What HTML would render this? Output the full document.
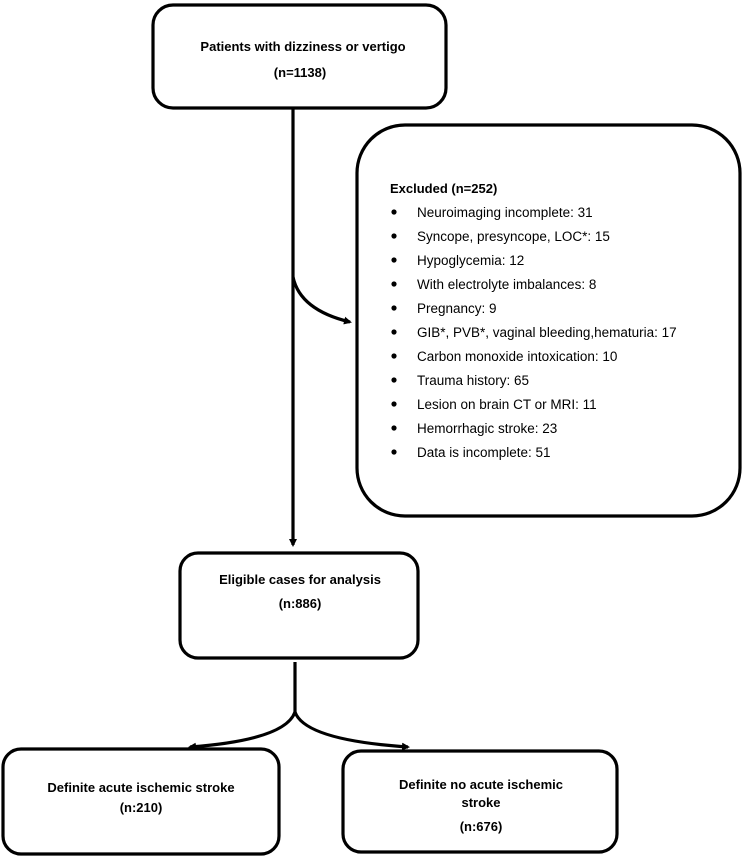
<!DOCTYPE html>
<html><head><meta charset="utf-8"><style>
html,body{margin:0;padding:0;background:#fff;}
svg{display:block;}
text{font-family:"Liberation Sans",sans-serif;fill:#000;}
.b{font-weight:bold;font-size:13px;}
.r{font-size:13.5px;}
</style></head><body>
<svg width="744" height="857" viewBox="0 0 744 857" xmlns="http://www.w3.org/2000/svg">
<defs>
<marker id="ah" markerWidth="8" markerHeight="8" refX="6" refY="4" orient="auto" markerUnits="userSpaceOnUse">
<path d="M0,0 L8,4 L0,8 Z" fill="#000"/>
</marker>
</defs>
<g fill="none" stroke="#000" stroke-width="3.2">
<rect x="153" y="5" width="293" height="103" rx="20"/>
<rect x="357" y="125" width="383" height="391" rx="48"/>
<rect x="180" y="553" width="238" height="105" rx="18"/>
<rect x="3" y="749" width="276" height="105" rx="18"/>
<rect x="343" y="751" width="274" height="101" rx="18"/>
<line x1="293" y1="108" x2="293" y2="545" marker-end="url(#ah)"/>
<path d="M293,277 Q300,310 350,322" marker-end="url(#ah)"/>
<line x1="295" y1="662" x2="295" y2="712"/>
<path d="M295,712 Q285,740 190,747" marker-end="url(#ah)"/>
<path d="M295,712 Q305,740 408,747" marker-end="url(#ah)"/>
</g>
<text class="b" x="303" y="51" text-anchor="middle">Patients with dizziness or vertigo</text>
<text class="b" x="300" y="77" text-anchor="middle">(n=1138)</text>
<text class="b" x="390" y="193">Excluded (n=252)</text>
<g class="r">
<text x="417" y="217">Neuroimaging incomplete: 31</text>
<text x="417" y="241">Syncope, presyncope, LOC*: 15</text>
<text x="417" y="265">Hypoglycemia: 12</text>
<text x="417" y="289">With electrolyte imbalances: 8</text>
<text x="417" y="313">Pregnancy: 9</text>
<text x="417" y="337">GIB*, PVB*, vaginal bleeding,hematuria: 17</text>
<text x="417" y="361">Carbon monoxide intoxication: 10</text>
<text x="417" y="385">Trauma history: 65</text>
<text x="417" y="409">Lesion on brain CT or MRI: 11</text>
<text x="417" y="433">Hemorrhagic stroke: 23</text>
<text x="417" y="457">Data is incomplete: 51</text>
</g>
<g fill="#000">
<circle cx="394" cy="212" r="2.6"/><circle cx="394" cy="236" r="2.6"/><circle cx="394" cy="260" r="2.6"/>
<circle cx="394" cy="284" r="2.6"/><circle cx="394" cy="308" r="2.6"/><circle cx="394" cy="332" r="2.6"/>
<circle cx="394" cy="356" r="2.6"/><circle cx="394" cy="380" r="2.6"/><circle cx="394" cy="404" r="2.6"/>
<circle cx="394" cy="428" r="2.6"/><circle cx="394" cy="452" r="2.6"/>
</g>
<text class="b" x="300" y="584" text-anchor="middle">Eligible cases for analysis</text>
<text class="b" x="300" y="608" text-anchor="middle">(n:886)</text>
<text class="b" x="141" y="792" text-anchor="middle">Definite acute ischemic stroke</text>
<text class="b" x="141" y="812" text-anchor="middle">(n:210)</text>
<text class="b" x="481" y="789" text-anchor="middle">Definite no acute ischemic</text>
<text class="b" x="481" y="807" text-anchor="middle">stroke</text>
<text class="b" x="481" y="831" text-anchor="middle">(n:676)</text>
</svg>
</body></html>
